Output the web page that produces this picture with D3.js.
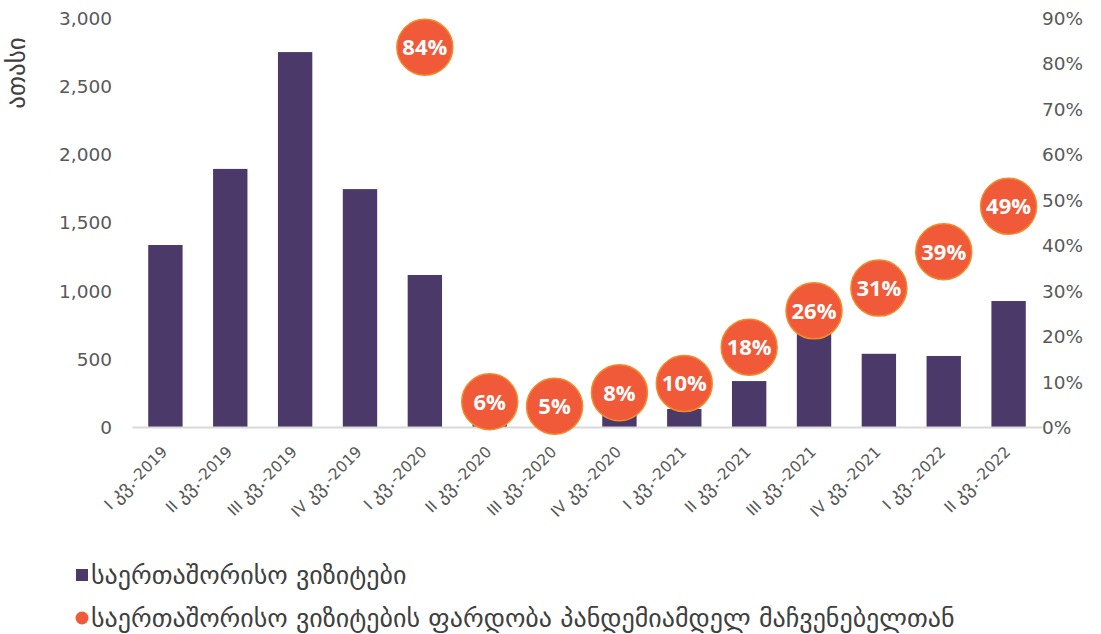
<!DOCTYPE html>
<html>
<head>
<meta charset="utf-8">
<script src="https://cdn.jsdelivr.net/npm/d3@7"></script>
<style>
  body { margin: 0; background: #fff; }
  svg text { font-family: "DejaVu Sans", sans-serif; }
</style>
</head>
<body>
<svg id="chart" width="1101" height="634"></svg>
<script>
const width = 1101;
const height = 634;
const margin = { top: 18, right: 59, bottom: 207, left: 132 };

// data
const quarters = [
  "I კვ.-2019", "II კვ.-2019", "III კვ.-2019", "IV კვ.-2019",
  "I კვ.-2020", "II კვ.-2020", "III კვ.-2020", "IV კვ.-2020",
  "I კვ.-2021", "II კვ.-2021", "III კვ.-2021", "IV კვ.-2021",
  "I კვ.-2022", "II კვ.-2022"
];
const visits = [1335, 1893, 2750, 1745, 1115, 114, 137, 138, 132, 337, 712, 537, 521, 924];
const ratioQuarters = quarters.slice(4);
const ratio = [0.84, 0.06, 0.05, 0.08, 0.10, 0.18, 0.26, 0.31, 0.39, 0.49];
const leftTicks = [0, 500, 1000, 1500, 2000, 2500, 3000];
const rightTicks = [0, 0.1, 0.2, 0.3, 0.4, 0.5, 0.6, 0.7, 0.8, 0.9];

const barName = "საერთაშორისო ვიზიტები";
const ratioName = "საერთაშორისო ვიზიტების ფარდობა პანდემიამდელ მაჩვენებელთან";
const yTitle = "ათასი";

const barColor = "#4b3a69";
const dotColor = "#f05a38";
const dotStroke = "#f28a2a";
const tickColor = "#595959";

const svg = d3.select("#chart");

const x = d3.scaleBand()
  .domain(quarters)
  .range([margin.left, width - margin.right])
  .paddingInner(0.47)
  .paddingOuter(0.25);

const y = d3.scaleLinear()
  .domain([0, 3000])
  .range([height - margin.bottom, margin.top]);

const y2 = d3.scaleLinear()
  .domain([0, 0.9])
  .range([height - margin.bottom, margin.top]);

// left axis
const leftAxis = svg.append("g")
  .attr("transform", `translate(${margin.left - 17},0)`)
  .call(d3.axisLeft(y).tickValues(leftTicks).tickFormat(d3.format(",")).tickSize(0));
leftAxis.select(".domain").remove();
leftAxis.selectAll("text")
  .attr("fill", tickColor)
  .style("font-size", "18.5px")
  .attr("dy", "0.35em");

// right axis
const rightAxis = svg.append("g")
  .attr("transform", `translate(${width - margin.right},0)`)
  .call(d3.axisRight(y2).tickValues(rightTicks).tickFormat(d3.format(".0%")).tickSize(0));
rightAxis.select(".domain").remove();
rightAxis.selectAll("text")
  .attr("fill", tickColor)
  .attr("x", 0)
  .style("font-size", "18.5px")
  .attr("dy", "0.35em");

// y title
svg.append("text")
  .attr("transform", `translate(25,73) rotate(-90)`)
  .attr("text-anchor", "middle")
  .attr("fill", "#404040")
  .style("font-size", "25px")
  .text(yTitle);

// bars
svg.append("g")
  .selectAll("rect")
  .data(visits)
  .join("rect")
  .attr("x", (d, i) => x(quarters[i]))
  .attr("y", d => y(d))
  .attr("width", x.bandwidth())
  .attr("height", d => y(0) - y(d))
  .attr("fill", barColor);

// bottom axis
const bottomAxis = svg.append("g")
  .attr("transform", `translate(0,${y(0)})`)
  .call(d3.axisBottom(x).tickSize(0).tickSizeOuter(0).tickFormat(""));
bottomAxis.select(".domain")
  .attr("stroke", "#d9d9d9")
  .attr("stroke-width", 2);

// rotated labels: the Georgian part is set a bit larger, as in the picture
const labels = bottomAxis.selectAll(".tick").append("text")
  .attr("fill", tickColor)
  .attr("text-anchor", "end")
  .attr("x", 0).attr("y", 0)
  .attr("dy", "0.35em")
  .attr("transform", "translate(-1,22) rotate(-45)")
  .style("font-size", "15.5px");
labels.each(function(d) {
  const [roman, rest] = d.split(" ");
  const [qq, yr] = rest.split("-");
  const t = d3.select(this);
  t.append("tspan").text(roman + " ");
  t.append("tspan").style("font-size", "20px").text(qq);
  t.append("tspan").text("-" + yr);
});

// ratio markers
const dots = svg.append("g")
  .selectAll("g")
  .data(ratio)
  .join("g")
  .attr("transform", (d, i) => `translate(${x(ratioQuarters[i]) + x.bandwidth() / 2},${y2(d) + 2})`);

dots.append("circle")
  .attr("r", 28)
  .attr("fill", dotColor)
  .attr("stroke", dotStroke)
  .attr("stroke-width", 1.5);

dots.append("text")
  .attr("text-anchor", "middle")
  .attr("dy", "0.36em")
  .attr("fill", "#fff")
  .style("font-family", "'Open Sans', sans-serif")
  .style("font-weight", "bold")
  .style("font-size", "22px")
  .text(d => d3.format(".0%")(d));

// legend
const legend = svg.append("g");
legend.append("rect")
  .attr("x", 76).attr("y", 569)
  .attr("width", 12).attr("height", 12)
  .attr("fill", barColor);
legend.append("text")
  .attr("x", 91).attr("y", 584)
  .attr("fill", "#404040")
  .style("font-size", "26px")
  .text(barName);
legend.append("circle")
  .attr("cx", 82).attr("cy", 618)
  .attr("r", 6.5)
  .attr("fill", dotColor);
legend.append("text")
  .attr("x", 91).attr("y", 627)
  .attr("fill", "#404040")
  .style("font-size", "26px")
  .text(ratioName);
</script>
</body>
</html>
